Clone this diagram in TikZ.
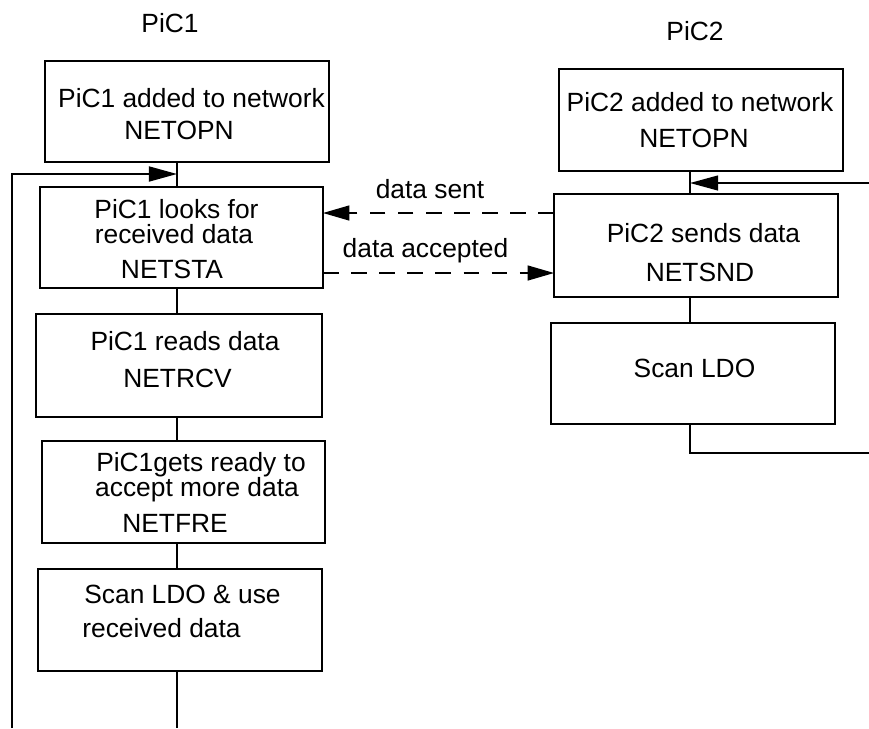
\documentclass[tikz,border=0pt]{standalone}
\usepackage{fontspec}
\setmainfont{Liberation Sans}
\usetikzlibrary{arrows.meta}

\tikzset{
  box/.style n args={2}{draw, line width=1.4pt, minimum width=#1cm, minimum height=#2cm, inner sep=0pt, outer sep=0pt},
  txt/.style={anchor=base, inner sep=0pt, font=\fontsize{15}{18}\selectfont},
  link/.style={line width=1.2pt},
  tip/.style={-{Triangle[length=16pt,width=8.5pt]}},
  dashlink/.style={line width=0.8pt, dash pattern=on 9pt off 7pt, -{Triangle[length=15pt,width=8.5pt]}}
}

\begin{document}
\begin{tikzpicture}[x=0.02cm,y=-0.02cm]
\useasboundingbox (0,0) rectangle (869,728);

\node[txt] (pic1) at (170,32) {PiC1};
\node[txt] (pic2) at (695,40) {PiC2};

\node[box={5.68}{2.02}] (b1) at (187,111.5) {};
\node[box={5.66}{2.02}] (b2) at (181.5,237.5) {};
\node[box={5.72}{2.06}] (b3) at (179,365.5) {};
\node[box={5.66}{2.04}] (b4) at (183.5,492) {};
\node[box={5.68}{2.04}] (b5) at (180,620) {};
\node[box={5.68}{2.04}] (r1) at (701,120) {};
\node[box={5.68}{2.06}] (r2) at (696,245.5) {};
\node[box={5.68}{2.02}] (r3) at (693,373.5) {};

\node[txt] (b1a) at (191.5,107) {PiC1 added to network};
\node[txt] (b1b) at (179,139) {NETOPN};
\node[txt] (b2a) at (176.5,218) {PiC1 looks for};
\node[txt] (b2b) at (174,243) {received data};
\node[txt] (b2c) at (172,278) {NETSTA};
\node[txt] (b3a) at (185,350) {PiC1 reads data};
\node[txt] (b3b) at (177.5,387) {NETRCV};
\node[txt] (b4a) at (201,471) {PiC1gets ready to};
\node[txt] (b4b) at (197,496) {accept more data};
\node[txt] (b4c) at (175,532) {NETFRE};
\node[txt] (b5a) at (182.5,603) {Scan LDO \& use};
\node[txt] (b5b) at (161.5,637) {received data};
\node[txt] (r1a) at (700,111) {PiC2 added to network};
\node[txt] (r1b) at (694,147) {NETOPN};
\node[txt] (r2a) at (703.5,242) {PiC2 sends data};
\node[txt] (r2b) at (700,281) {NETSND};
\node[txt] (r3a) at (694.5,377) {Scan LDO};
\node[txt] (sent) at (430,198) {data sent};
\node[txt] (acc) at (425.5,257) {data accepted};

\coordinate (lx) at (177,0);
\coordinate (rx) at (690,0);
\coordinate (bot) at (0,728);
\coordinate (lp) at (12,174);
\coordinate (re) at (869,183);
\coordinate (rb) at (869,453);
\coordinate (ds) at (0,213);
\coordinate (da) at (0,273);

\foreach \a/\b in {b1/b2,b2/b3,b3/b4,b4/b5}
\draw[link] (\a.south -| lx) -- (\b.north -| lx);
\draw[link] (b5.south -| lx) -- (lx |- bot);
\draw[link,tip] (lp |- bot) -- (lp) -- (lx |- lp);

\foreach \a/\b in {r1/r2,r2/r3}
\draw[link] (\a.south -| rx) -- (\b.north -| rx);
\draw[line width=0.8pt,tip] (re) -- (rx |- re);
\draw[link] (r3.south -| rx) -- (rx |- rb) -- (rb);

\draw[dashlink] (r2.west |- ds) -- (b2.east |- ds);
\draw[dashlink] (b2.east |- da) -- (r2.west |- da);
\end{tikzpicture}
\end{document}
